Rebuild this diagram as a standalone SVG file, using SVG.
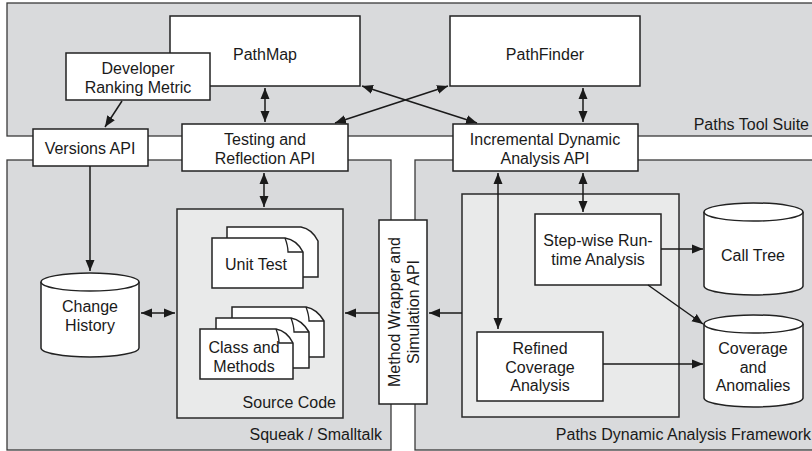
<svg xmlns="http://www.w3.org/2000/svg" width="812" height="451" viewBox="0 0 812 451">
<style>
text{font-family:"Liberation Sans",Arial,sans-serif;font-size:16px;fill:#1a1a1a}
.c{text-anchor:middle}
.r{text-anchor:end}
.region{fill:#d9dadc;stroke:#3a3a3a;stroke-width:1.3}
.inner{fill:#e9eaea;stroke:#2a2a2a;stroke-width:1.5}
.box{fill:#fff;stroke:#222;stroke-width:1.5}
.conn{fill:none;stroke:#1a1a1a;stroke-width:1.5}
</style>
<defs>
<marker id="ah" markerUnits="userSpaceOnUse" markerWidth="12" markerHeight="10" refX="11" refY="5" orient="auto-start-reverse">
<path d="M0,0.5 L11,5 L0,9.5 z" fill="#1a1a1a"/>
</marker>
</defs>
<g id="regions">
<rect class="region" x="7" y="3" width="820" height="133"/>
<rect class="region" x="7" y="160" width="384" height="290"/>
<rect class="region" x="415" y="160" width="412" height="290"/>
<text class="r" x="809" y="130">Paths Tool Suite</text>
<text class="r" x="382" y="440">Squeak / Smalltalk</text>
<text class="r" x="811" y="440">Paths Dynamic Analysis Framework</text>
</g>
<g id="source-code">
<rect class="inner" x="177" y="209" width="166" height="209"/>
<text class="r" x="336" y="408">Source Code</text>
</g>
<g id="framework-inner">
<rect class="inner" x="462" y="194" width="217" height="223"/>
</g>
<g id="pathmap">
<rect class="box" x="170" y="16" width="190" height="70"/>
<text class="c" x="265" y="60">PathMap</text>
</g>
<g id="pathfinder">
<rect class="box" x="450" y="16" width="190" height="70"/>
<text class="c" x="545" y="60">PathFinder</text>
</g>
<g id="developer-ranking">
<rect class="box" x="66" y="53" width="144" height="47"/>
<text class="c" x="138" y="74">Developer</text>
<text class="c" x="138" y="93">Ranking Metric</text>
</g>
<g id="versions-api">
<rect class="box" x="33" y="129" width="115" height="37"/>
<text class="c" x="90" y="154">Versions API</text>
</g>
<g id="testing-api">
<rect class="box" x="182" y="124" width="166" height="47"/>
<text class="c" x="265" y="145">Testing and</text>
<text class="c" x="265" y="164">Reflection API</text>
</g>
<g id="incremental-api">
<rect class="box" x="453" y="124" width="185" height="47"/>
<text class="c" x="545" y="145">Incremental Dynamic</text>
<text class="c" x="545" y="164">Analysis API</text>
</g>
<g id="method-wrapper">
<rect class="box" x="379" y="220" width="48" height="184"/>
<text class="c" transform="translate(400,312) rotate(-90)">Method Wrapper and</text>
<text class="c" transform="translate(419,312) rotate(-90)">Simulation API</text>
</g>
<g id="unit-test">
<path class="box" d="M227,227 H301 Q312,229 318,241 V277 H227 Z"/>
<path class="box" d="M212,238 H285 Q297,240 303,252 V288 H212 Z"/>
<path fill="none" stroke="#222" stroke-width="1.3" d="M285,238 Q288,246 288,252 H303"/>
<text class="c" x="256" y="270">Unit Test</text>
</g>
<g id="class-methods">
<path class="box" d="M232,307 H306 Q317,309 324,321 V357 H232 Z"/>
<path fill="none" stroke="#222" stroke-width="1.3" d="M306,307 Q309,315 309,321 H324"/>
<path class="box" d="M216,318 H291 Q302,320 309,332 V368 H216 Z"/>
<path fill="none" stroke="#222" stroke-width="1.3" d="M291,318 Q294,326 294,332 H309"/>
<path class="box" d="M200,329 H276 Q287,331 293,343 V379 H200 Z"/>
<path fill="none" stroke="#222" stroke-width="1.3" d="M276,329 Q279,337 279,343 H293"/>
<text class="c" x="244" y="353">Class and</text>
<text class="c" x="244" y="372">Methods</text>
</g>
<g id="change-history">
<path class="box" d="M41,282 V348 A49,9 0 0 0 139,348 V282"/>
<ellipse class="box" cx="90" cy="282" rx="49" ry="9"/>
<text class="c" x="90" y="312">Change</text>
<text class="c" x="90" y="331">History</text>
</g>
<g id="call-tree">
<path class="box" d="M704,212 V286 A49.5,9 0 0 0 803,286 V212"/>
<ellipse class="box" cx="753.5" cy="212" rx="49.5" ry="9"/>
<text class="c" x="753" y="261">Call Tree</text>
</g>
<g id="coverage-anomalies">
<path class="box" d="M704,324 V398 A49.5,9 0 0 0 803,398 V324"/>
<ellipse class="box" cx="753.5" cy="324" rx="49.5" ry="9"/>
<text class="c" x="753" y="354">Coverage</text>
<text class="c" x="753" y="373">and</text>
<text class="c" x="753" y="391">Anomalies</text>
</g>
<g id="stepwise">
<rect class="box" x="535" y="214" width="126" height="71"/>
<text class="c" x="598" y="246">Step-wise Run-</text>
<text class="c" x="598" y="265">time Analysis</text>
</g>
<g id="refined">
<rect class="box" x="477" y="332" width="126" height="69"/>
<text class="c" x="540" y="354">Refined</text>
<text class="c" x="540" y="373">Coverage</text>
<text class="c" x="540" y="391">Analysis</text>
</g>
<g id="connectors">
<line class="conn" x1="122" y1="101" x2="105" y2="127" marker-end="url(#ah)"/>
<line class="conn" x1="265" y1="88" x2="265" y2="122" marker-start="url(#ah)" marker-end="url(#ah)"/>
<line class="conn" x1="583" y1="88" x2="583" y2="122" marker-start="url(#ah)" marker-end="url(#ah)"/>
<line class="conn" x1="362" y1="86" x2="477" y2="123" marker-start="url(#ah)" marker-end="url(#ah)"/>
<line class="conn" x1="335" y1="123" x2="448" y2="86" marker-start="url(#ah)" marker-end="url(#ah)"/>
<line class="conn" x1="264" y1="173" x2="264" y2="207" marker-start="url(#ah)" marker-end="url(#ah)"/>
<line class="conn" x1="90" y1="166" x2="90" y2="271" marker-end="url(#ah)"/>
<line class="conn" x1="141" y1="313" x2="175" y2="313" marker-start="url(#ah)" marker-end="url(#ah)"/>
<line class="conn" x1="379" y1="313" x2="345" y2="313" marker-end="url(#ah)"/>
<line class="conn" x1="462" y1="313" x2="429" y2="313" marker-end="url(#ah)"/>
<line class="conn" x1="498" y1="173" x2="498" y2="329" marker-start="url(#ah)" marker-end="url(#ah)"/>
<line class="conn" x1="583" y1="173" x2="583" y2="212" marker-start="url(#ah)" marker-end="url(#ah)"/>
<line class="conn" x1="661" y1="249" x2="703" y2="249" marker-end="url(#ah)"/>
<line class="conn" x1="648" y1="285" x2="703" y2="324" marker-end="url(#ah)"/>
<line class="conn" x1="603" y1="364" x2="703" y2="364" marker-end="url(#ah)"/>
</g>
</svg>
